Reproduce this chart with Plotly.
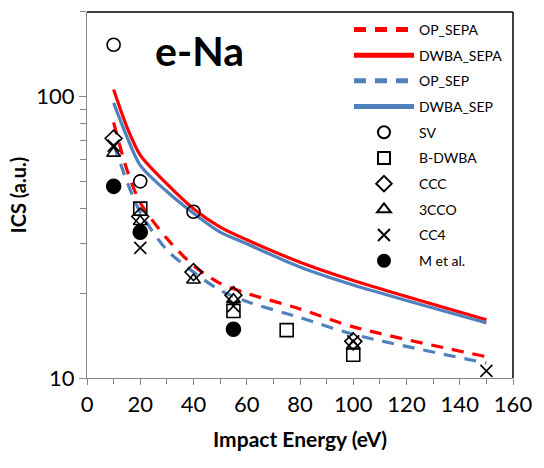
import plotly.graph_objects as go

# Theory curves
energy_curve = [10, 15, 20, 30, 40, 50, 60, 80, 100, 150]
op_sepa = [81, 55, 42, 31.3, 25.1, 21.7, 20.0, 17.6, 15.2, 11.9]
dwba_sepa = [106, 78, 62, 49, 40, 34.4, 31, 25.8, 22.2, 16.1]
op_sep = [68, 50, 38.8, 28.5, 23.8, 20.5, 18.7, 16.4, 14.3, 11.3]
dwba_sep = [95, 72, 57, 46, 38.5, 33, 30, 24.8, 21.4, 15.7]

# Other results
sv_x = [10, 20, 40]
sv_y = [153, 50, 39]
bdwba_x = [20, 55, 75, 100]
bdwba_y = [40, 17.3, 14.8, 12.1]
ccc_x = [10, 20, 40, 55, 100]
ccc_y = [71, 37.5, 23.8, 19.7, 13.5]
cco_x = [10, 20, 40, 55, 100]
cco_y = [63, 36, 22.3, 19.0, 13.0]
cc4_x = [10, 20, 55, 100, 150]
cc4_y = [67, 29, 18, 13.5, 10.6]
met_x = [10, 20, 55]
met_y = [48, 33, 14.9]

RED = "#FF0000"
BLUE = "#4F81BD"
FONT = "Lato"

fig = go.Figure()
lines = [
    ("OP_SEPA", op_sepa, RED, "12px,9px"),
    ("DWBA_SEPA", dwba_sepa, RED, "solid"),
    ("OP_SEP", op_sep, BLUE, "12px,9px"),
    ("DWBA_SEP", dwba_sep, BLUE, "solid"),
]
for i, (name, ys, col, dash) in enumerate(lines):
    fig.add_trace(go.Scatter(x=energy_curve, y=ys, mode="lines", name=name,
                             legendgroup=f"g{i}",
                             line=dict(color=col, width=3.2, dash=dash,
                                       shape="spline", smoothing=0.8)))

pts = [
    ("SV", sv_x, sv_y, "circle-open", 13),
    ("B-DWBA", bdwba_x, bdwba_y, "square-open", 13),
    ("CCC", ccc_x, ccc_y, "diamond-open", 13),
    ("3CCO", cco_x, cco_y, "triangle-up-open", 12),
    ("CC4", cc4_x, cc4_y, "x-thin-open", 12),
    ("M et al.", met_x, met_y, "circle", 14),
]
for j, (name, xs, ys, sym, sz) in enumerate(pts):
    fig.add_trace(go.Scatter(x=xs, y=ys, mode="markers", name=name,
                             legendgroup=f"p{j}",
                             marker=dict(symbol=sym, size=sz, color="black",
                                         line=dict(color="black", width=1.6))))

fig.add_annotation(text="<b>e-Na</b>", xref="paper", yref="paper", x=0.155, y=0.895,
                   xanchor="left", yanchor="middle", showarrow=False,
                   font=dict(family=FONT, size=41, color="black"))

# top and right plot-area border
fig.add_shape(type="line", xref="paper", yref="paper", x0=0, x1=1, y0=1, y1=1,
              line=dict(color="black", width=1.5))
fig.add_shape(type="line", xref="paper", yref="paper", x0=1, x1=1, y0=0, y1=1,
              line=dict(color="black", width=1.5))

fig.update_layout(
    width=544, height=468,
    margin=dict(l=87, r=21, t=12, b=90),
    paper_bgcolor="white", plot_bgcolor="white",
    font=dict(family=FONT, color="black"),
    showlegend=True,
    legend=dict(x=0.615, y=0.995, xanchor="left", yanchor="top",
                bgcolor="rgba(0,0,0,0)", font=dict(family=FONT, size=14),
                tracegroupgap=4.5, itemsizing="constant", itemwidth=60),
)
fig.update_xaxes(range=[0, 160], tickvals=[0, 20, 40, 60, 80, 100, 120, 140, 160],
                 showgrid=False, zeroline=False, showline=True,
                 linecolor="#868686", linewidth=1.3,
                 ticks="outside", ticklen=6, tickcolor="#868686",
                 minor=dict(tickvals=[10, 30, 50, 70, 90, 110, 130, 150], ticks="outside",
                            ticklen=5, tickcolor="#868686"),
                 tickfont=dict(family=FONT, size=22),
                 title=dict(text="<b>Impact Energy (eV)</b>", font=dict(family=FONT, size=21),
                            standoff=16))
fig.update_yaxes(type="log", range=[1, 2.301], tickvals=[10, 100], ticktext=["10", "100"],
                 showgrid=False, zeroline=False, showline=True,
                 linecolor="#868686", linewidth=1.3,
                 ticks="outside", ticklen=7, tickcolor="#868686",
                 minor=dict(tickvals=[20, 30, 40, 50, 60, 70, 80, 90, 200], ticks="outside",
                            ticklen=6, tickcolor="#868686"),
                 tickfont=dict(family=FONT, size=22),
                 title=dict(text="<b>ICS (a.u.)</b>", font=dict(family=FONT, size=20),
                            standoff=4))

fig.write_html("out.html")
